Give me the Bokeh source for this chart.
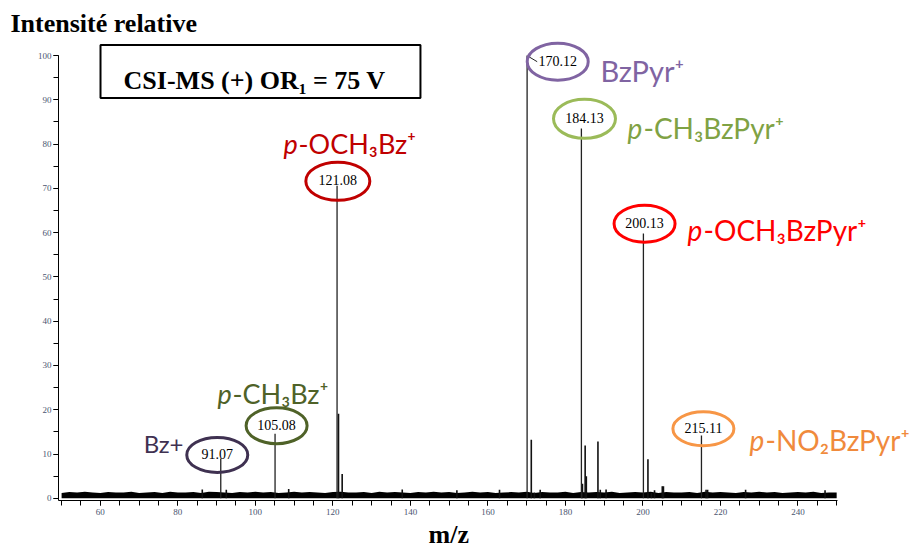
from bokeh.plotting import figure
from bokeh.models import Range1d, SingleIntervalTicker, Label, BoxAnnotation, Title
from bokeh.embed import file_html
from bokeh.resources import INLINE

# ---------------- data ----------------
# labelled peaks
peak_mz = [91.07, 105.08, 121.08, 170.12, 184.13, 200.13, 215.11]
peak_int = [9.0, 14.6, 70.6, 100.0, 83.5, 59.8, 14.2]
peak_text = ["91.07", "105.08", "121.08", "170.12", "184.13", "200.13", "215.11"]
ion_prefix = ["", "p", "p", "", "p", "p", "p"]
ion_name = ["Bz+", "-CH₃Bz⁺", "-OCH₃Bz⁺", "BzPyr⁺", "-CH₃BzPyr⁺", "-OCH₃BzPyr⁺", "-NO₂BzPyr⁺"]

# other (unlabelled) peaks
minor_mz = [121.45, 122.4, 171.2, 172.0, 184.4, 185.1, 185.4, 188.4, 189.0,
            201.3, 202.2, 205.0, 205.3, 216.3, 216.7,
            86.3, 92.5, 108.6, 137.9, 152.0, 163.0, 173.5, 190.5, 203.0, 226.5, 247.0]
minor_int = [19.1, 5.5, 13.2, 1.3, 3.3, 11.9, 5.0, 12.8, 1.9,
             8.8, 1.2, 2.7, 2.7, 1.9, 1.9,
             2.0, 1.9, 2.1, 2.0, 1.8, 1.9, 1.9, 2.0, 1.8, 1.9, 1.8]

# baseline noise level
noise_mz = [50 + 2 * i for i in range(101)]
noise_level = [1.2, 1.4, 1.3, 1.5, 1.3, 1.2, 1.4, 1.3, 1.3, 1.5,
               1.2, 1.3, 1.4, 1.2, 1.5, 1.3, 1.3, 1.4, 1.2, 1.5,
               1.4, 1.3, 1.2, 1.4, 1.3, 1.5, 1.3, 1.4, 1.2, 1.3,
               1.5, 1.3, 1.4, 1.3, 1.2, 1.4, 1.5, 1.3, 1.3, 1.4,
               1.2, 1.5, 1.3, 1.4, 1.3, 1.2, 1.4, 1.3, 1.5, 1.3,
               1.4, 1.2, 1.3, 1.5, 1.3, 1.4, 1.2, 1.3, 1.4, 1.3,
               1.5, 1.2, 1.4, 1.3, 1.3, 1.5, 1.2, 1.4, 1.3, 1.4,
               1.3, 1.5, 1.2, 1.3, 1.4, 1.3, 1.5, 1.2, 1.4, 1.3,
               1.3, 1.4, 1.2, 1.5, 1.3, 1.4, 1.3, 1.2, 1.4, 1.3,
               1.5, 1.3, 1.4, 1.2, 1.3, 1.4, 1.3, 1.5, 1.2, 1.3,
               1.3]

# ---------------- layout / style ----------------
ell_color = ["#3F3151", "#4F6228", "#C00000", "#8064A2", "#9BBB59", "#FF0000", "#F79646"]
txt_color = ["#3F3151", "#4F6228", "#C00000", "#8064A2", "#7FA244", "#FF0000", "#F08A3C"]
ell_dx = [-0.9, 0.4, 0.2, 7.9, 0.8, 0.3, 0.5]
ell_dy = [0.8, 1.8, 1.0, -1.4, 2.2, 2.2, 1.5]
ell_w = [61, 61, 64, 61, 62, 61, 61]
ell_h = [35, 36, 38, 37, 39, 37, 34]
ion_dx = [-19.9, -14.85, -13.8, 18.95, 11.9, 11.4, 12.4]
ion_dy = [3.4, 9.1, 9.5, -3.4, 0.2, 0.9, -1.1]
ion_size = [24, 27, 27, 29, 28, 28, 28]

SERIF = "Liberation Serif"
SANS = "Lato"

p = figure(width=916, height=553,
           x_range=Range1d(49.2, 270.6), y_range=Range1d(-0.5, 103.84),
           output_backend="svg", toolbar_location=None,
           min_border_left=58, min_border_right=0,
           min_border_top=38, min_border_bottom=53)
p.outline_line_color = None
p.xgrid.visible = False
p.ygrid.visible = False
p.background_fill_color = "white"
p.border_fill_color = "white"

# title
p.title.text = "Intensité relative"
p.title.text_font = SERIF
p.title.text_font_style = "bold"
p.title.text_font_size = "26px"
p.title.text_color = "black"
p.title.align = "left"
p.title.offset = -48
p.title.standoff = 2

# axes
p.xaxis.ticker = SingleIntervalTicker(interval=20, num_minor_ticks=4)
p.yaxis.ticker = SingleIntervalTicker(interval=10, num_minor_ticks=2)
p.xaxis.bounds = (49.2, 250.2)
p.yaxis.bounds = (-0.5, 100)
for ax in (p.xaxis[0], p.yaxis[0]):
    ax.axis_line_color = "black"
    ax.axis_line_width = 1
    ax.major_tick_line_color = "black"
    ax.minor_tick_line_color = "black"
    ax.major_tick_in = 0
    ax.minor_tick_in = 0
    ax.major_tick_out = 5
    ax.minor_tick_out = 5
    ax.major_label_text_font = SERIF
    ax.major_label_text_font_size = "9px"
    ax.major_label_text_color = "#4a5570"
p.xaxis.major_label_standoff = 3
p.yaxis.major_label_standoff = 2

# x caption below the axis
p.add_layout(Title(text="m/z", text_font=SERIF, text_font_style="bold",
                   text_font_size="26px", text_color="black",
                   align="left", offset=370, standoff=0), "below")

# baseline noise band
p.varea(x=noise_mz, y1=0, y2=noise_level, fill_color="black")

# peaks
p.segment(x0=minor_mz, y0=[0] * len(minor_mz), x1=minor_mz, y1=minor_int,
          line_color="#111111", line_width=1.6)
p.segment(x0=peak_mz, y0=[0] * len(peak_mz), x1=peak_mz, y1=peak_int,
          line_color="#222222", line_width=1.3)

# leader for 170.12
p.segment(x0=[peak_mz[3] + 0.3], y0=[peak_int[3] - 0.2],
          x1=[peak_mz[3] + 2.6], y1=[peak_int[3] - 1.4],
          line_color="#222222", line_width=1)

# ellipses
ex = [m + d for m, d in zip(peak_mz, ell_dx)]
ey = [v + d for v, d in zip(peak_int, ell_dy)]
p.ellipse(x=ex, y=ey, width=ell_w, height=ell_h,
          width_units="screen", height_units="screen",
          fill_color=None, line_color=ell_color, line_width=3)

# peak value labels
for i in range(len(peak_mz)):
    p.add_layout(Label(x=ex[i], y=ey[i] + 0.25, text=peak_text[i],
                       text_font=SERIF, text_font_size="14px", text_color="black",
                       text_align="center", text_baseline="middle"))

# ion names
for i in range(len(peak_mz)):
    x = peak_mz[i] + ion_dx[i]
    y = peak_int[i] + ion_dy[i]
    off = 0
    if ion_prefix[i]:
        p.add_layout(Label(x=x, y=y, text=ion_prefix[i], text_font=SANS,
                           text_font_style="italic",
                           text_font_size=f"{ion_size[i]}px", text_color=txt_color[i],
                           text_align="left", text_baseline="alphabetic"))
        off = round(0.56 * ion_size[i])
    p.add_layout(Label(x=x, y=y, x_offset=off, text=ion_name[i], text_font=SANS,
                       text_font_size=f"{ion_size[i]}px", text_color=txt_color[i],
                       text_align="left", text_baseline="alphabetic"))

# framed condition box
p.add_layout(BoxAnnotation(left=60.04, right=142.6, top=102.4, bottom=90.4,
                           fill_color=None, fill_alpha=0,
                           line_color="black", line_alpha=1, line_width=2))
p.add_layout(Label(x=99.8, y=94.35, text="CSI-MS (+) OR₁ = 75 V",
                   text_font=SERIF, text_font_style="bold", text_font_size="26px",
                   text_color="black", text_align="center", text_baseline="alphabetic"))

open("out.html", "w").write(file_html(p, INLINE))
